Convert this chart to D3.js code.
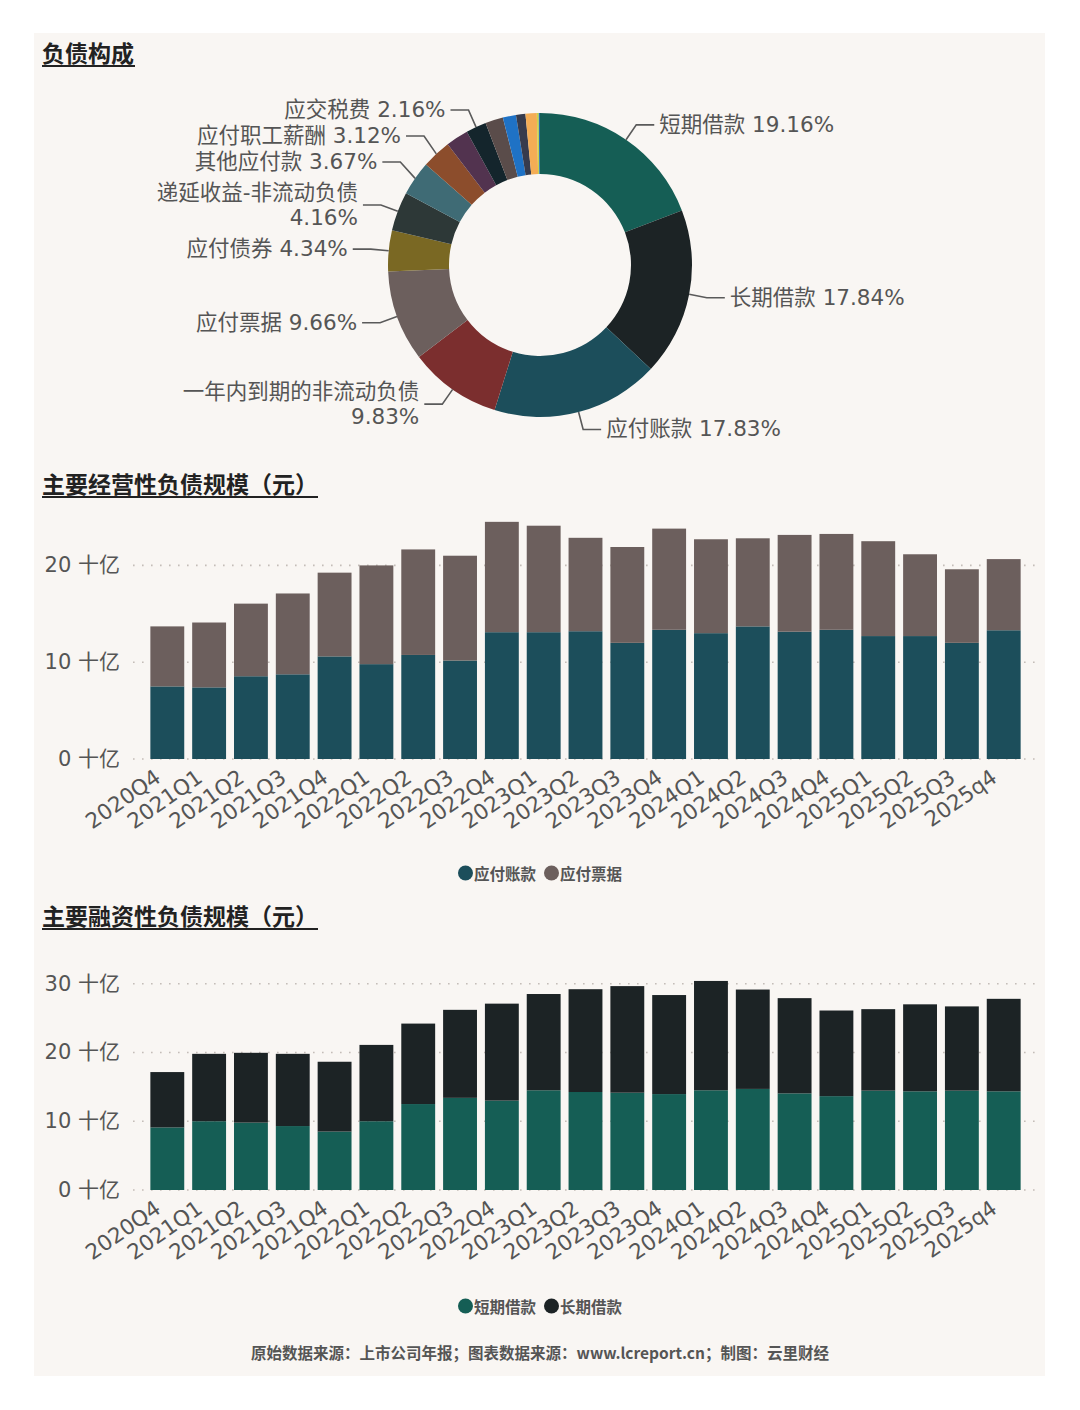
<!DOCTYPE html>
<html>
<head>
<meta charset="utf-8">
<script src="https://cdn.jsdelivr.net/npm/d3@7"></script>
<style>
  body { margin: 0; background: #fff; }
  svg { display: block; font-family: "DejaVu Sans", "Noto Sans CJK SC", sans-serif; }
</style>
</head>
<body>
<svg id="chart" width="1080" height="1410"></svg>
<script>
// ---- data ----
const pieNames = ['短期借款', '长期借款', '应付账款', '一年内到期的非流动负债', '应付票据', '应付债券',
  '递延收益-非流动负债', '其他应付款', '应付职工薪酬', '其他a', '应交税费', '其他b', '其他c', '其他d', '其他e', '其他f', '其他g'];
const pieValues = [19.16, 17.84, 17.83, 9.83, 9.66, 4.34, 4.16, 3.67, 3.12, 2.40, 2.16, 1.90, 1.40, 1.00, 1.20, 0.20, 0.13];
const pieShowLabel = [true, true, true, true, true, true, true, true, true, false, true, false, false, false, false, false, false];
const pieColors = ['#155e55', '#1c2325', '#1c4e5b', '#7b2e2e', '#6c5f5d', '#7a6823', '#2d3837', '#3f6b75',
  '#8c4d2c', '#52334f', '#14252c', '#5a4c4a', '#1f72c5', '#373b4c', '#f4ad55', '#c8d44a', '#2a6fb0'];

const quarters = ['2020Q4', '2021Q1', '2021Q2', '2021Q3', '2021Q4', '2022Q1', '2022Q2', '2022Q3', '2022Q4',
  '2023Q1', '2023Q2', '2023Q3', '2023Q4', '2024Q1', '2024Q2', '2024Q3', '2024Q4',
  '2025Q1', '2025Q2', '2025Q3', '2025q4'];

// 十亿元
const payables = [7.5, 7.4, 8.55, 8.75, 10.6, 9.8, 10.75, 10.17, 13.1, 13.1, 13.2, 12.0, 13.35, 13.0, 13.7, 13.15, 13.35, 12.7, 12.7, 12.0, 13.3];
const notesPayable = [6.2, 6.7, 7.5, 8.35, 8.65, 10.2, 10.9, 10.83, 11.4, 11.0, 9.65, 9.9, 10.45, 9.7, 9.1, 10.0, 9.9, 9.8, 8.45, 7.6, 7.35];

const shortLoans = [9.1, 10.0, 9.8, 9.3, 8.5, 10.0, 12.5, 13.4, 13.0, 14.5, 14.25, 14.15, 13.95, 14.5, 14.7, 14.05, 13.65, 14.45, 14.35, 14.45, 14.35];
const longLoans = [8.05, 9.8, 10.15, 10.5, 10.15, 11.1, 11.7, 12.8, 14.1, 14.0, 14.95, 15.5, 14.4, 15.9, 14.45, 13.85, 12.45, 11.85, 12.65, 12.25, 13.45];

const opTicks = [0, 10, 20];
const finTicks = [0, 10, 20, 30];

const svg = d3.select('#chart');
const textColor = '#555';

// card background
svg.append('rect').attr('x', 34).attr('y', 33).attr('width', 1011).attr('height', 1343).attr('fill', '#f9f6f3');

function title(txt, y, extra) {
  const t = svg.append('text').attr('x', 42).attr('y', y)
    .attr('font-size', 23).attr('font-weight', 'bold').attr('fill', '#222')
    .attr('font-family', '"Noto Sans CJK SC", sans-serif').text(txt);
  const w = t.node().getComputedTextLength();
  svg.append('line').attr('x1', 42).attr('x2', 42 + w + extra).attr('y1', y + 4).attr('y2', y + 4)
    .attr('stroke', '#222').attr('stroke-width', 2.2);
}

title('负债构成', 62, 1);
title('主要经营性负债规模（元）', 493, 0);
title('主要融资性负债规模（元）', 925, 0);

// ---- donut ----
const cx = 540, cy = 265, rIn = 91, rOut = 152, rElbow = 170;
const pieData = pieValues.map((v, i) => ({ name: pieNames[i], value: v, show: pieShowLabel[i], color: pieColors[i] }));
const arcs = d3.pie().sort(null).value(d => d.value)(pieData);
const arc = d3.arc().innerRadius(rIn).outerRadius(rOut);

const gPie = svg.append('g').attr('transform', `translate(${cx},${cy})`);
gPie.selectAll('path').data(arcs).join('path')
  .attr('d', arc).attr('fill', d => d.data.color);

const lineH = 25;
const labels = arcs.filter(d => d.data.show).map(d => {
  const a = (d.startAngle + d.endAngle) / 2;
  const pct = d.data.value.toFixed(2) + '%';
  const lines = d.data.name.length >= 9 ? [d.data.name, pct] : [d.data.name + ' ' + pct];
  return {
    a, lines,
    x0: Math.sin(a) * rOut, y0: -Math.cos(a) * rOut,
    x1: Math.sin(a) * rElbow, y1: -Math.cos(a) * rElbow,
    right: Math.sin(a) > 0,
    h: lines.length * 26 + (lines.length - 1) * 8
  };
});
labels.forEach(l => { l.y = l.y1; });

// push overlapping labels apart on each side (bottom-up)
[true, false].forEach(side => {
  const s = labels.filter(l => l.right === side).sort((p, q) => p.y - q.y);
  for (let i = s.length - 2; i >= 0; i--) {
    const maxY = s[i + 1].y - (s[i].h + s[i + 1].h) / 2;
    if (s[i].y > maxY) s[i].y = maxY;
  }
});

const gLab = svg.append('g').attr('transform', `translate(${cx},${cy})`);
labels.forEach(l => {
  const dir = l.right ? 1 : -1;
  const xEnd = l.x1 + dir * 18;
  gLab.append('path')
    .attr('d', `M${l.x0},${l.y0}L${l.x1},${l.y}L${xEnd},${l.y}`)
    .attr('fill', 'none').attr('stroke', '#5a5a5a').attr('stroke-width', 1.6);
  const t = gLab.append('text')
    .attr('x', xEnd + dir * 5)
    .attr('y', l.y - (l.lines.length - 1) * lineH / 2 - 1)
    .attr('text-anchor', l.right ? 'start' : 'end')
    .attr('dominant-baseline', 'central')
    .attr('font-size', 21.5).attr('fill', textColor);
  l.lines.forEach((ln, i) => {
    t.append('tspan').attr('x', xEnd + dir * 5).attr('dy', i === 0 ? 0 : lineH).text(ln);
  });
});

// ---- stacked bar charts ----
const x = d3.scaleBand().domain(quarters).range([142, 1029]).paddingInner(0.19).paddingOuter(0.2);

function barChart(opts) {
  const y = d3.scaleLinear().domain(opts.domain).range(opts.range);
  const g = svg.append('g');

  // dotted grid
  g.selectAll('line.grid').data(opts.ticks).join('line')
    .attr('x1', 133).attr('x2', 1038)
    .attr('y1', d => y(d)).attr('y2', d => y(d))
    .attr('stroke', '#c4bdb8').attr('stroke-width', 1.6).attr('stroke-dasharray', '1.6,7.4');

  g.selectAll('text.ytick').data(opts.ticks).join('text')
    .attr('x', 120).attr('y', d => y(d)).attr('text-anchor', 'end').attr('dominant-baseline', 'central')
    .attr('font-size', 21).attr('fill', textColor).text(d => d + ' 十亿');

  const rows = quarters.map((q, i) => ({ q, a: opts.series[0][i], b: opts.series[1][i] }));
  const stacked = d3.stack().keys(['a', 'b'])(rows);
  stacked.forEach((layer, k) => {
    g.append('g').selectAll('rect').data(layer).join('rect')
      .attr('x', d => x(d.data.q)).attr('width', x.bandwidth())
      .attr('y', d => y(d[1])).attr('height', d => y(d[0]) - y(d[1]))
      .attr('fill', opts.colors[k]);
  });

  // rotated category labels
  g.selectAll('text.xtick').data(quarters).join('text')
    .attr('transform', d => `translate(${x(d) + x.bandwidth() / 2 - 14},${opts.range[0] + 9}) rotate(-35)`)
    .attr('text-anchor', 'end').attr('dy', '0.72em')
    .attr('font-size', 21.5).attr('fill', textColor).text(d => d);

  // legend
  const lg = g.append('g');
  let cxPos = 0;
  opts.names.forEach((n, k) => {
    lg.append('circle').attr('cx', cxPos + 7.5).attr('cy', 0).attr('r', 7.5).attr('fill', opts.colors[k]);
    const t = lg.append('text').attr('x', cxPos + 16).attr('y', 0).attr('dominant-baseline', 'central')
      .attr('font-size', 15.5).attr('font-weight', 'bold').attr('fill', textColor)
      .attr('font-family', '"Noto Sans CJK SC", sans-serif').text(n);
    cxPos += 16 + t.node().getComputedTextLength() + 8;
  });
  const lw = cxPos - 8;
  lg.attr('transform', `translate(${540 - lw / 2},${opts.legendY})`);
}

barChart({
  domain: [0, 25], range: [759, 517], ticks: opTicks,
  series: [payables, notesPayable], names: ['应付账款', '应付票据'],
  colors: ['#1c4e5b', '#6c5f5d'], legendY: 873
});

barChart({
  domain: [0, 30], range: [1190, 983.7], ticks: finTicks,
  series: [shortLoans, longLoans], names: ['短期借款', '长期借款'],
  colors: ['#155e55', '#1c2325'], legendY: 1306
});

// footer
svg.append('text').attr('x', 540).attr('y', 1352).attr('text-anchor', 'middle').attr('dominant-baseline', 'central')
  .attr('font-size', 15.5).attr('font-weight', 'bold').attr('fill', textColor)
  .attr('font-family', '"Noto Sans CJK SC", sans-serif')
  .text('原始数据来源：上市公司年报；图表数据来源：www.lcreport.cn；制图：云里财经');
</script>
</body>
</html>
